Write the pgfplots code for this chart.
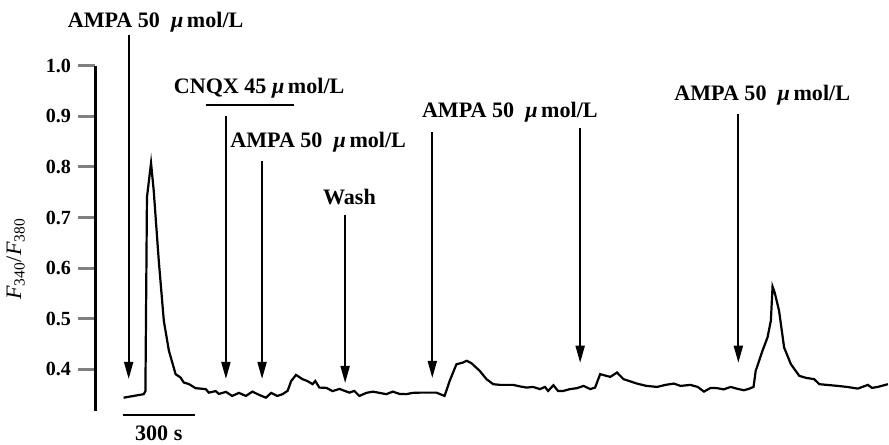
\documentclass[border=0pt]{standalone}
\usepackage{fontspec}
\setmainfont{Liberation Serif}
\usepackage{pgfplots}
\pgfplotsset{compat=1.18}
\usetikzlibrary{arrows.meta}
\begin{document}
\begin{tikzpicture}
\begin{axis}[
  scale only axis,
  width=396pt, height=172pt,
  xmin=-114, xmax=3187, ymin=0.318, ymax=1.0,
  hide x axis,
  axis y line*=left,
  axis line style={line width=1.5pt},
  ytick={0.4,0.5,0.6,0.7,0.8,0.9,1.0},
  tick align=outside,
  major tick length=8.5pt,
  ytick style={line width=1.5pt},
  yticklabel style={font=\fontsize{10}{12}\selectfont\bfseries, /pgf/number format/fixed, /pgf/number format/precision=1, /pgf/number format/fixed zerofill},
  /pgf/number format/assume math mode=true,
  ylabel={{\itshape F}\textsubscript{340}/{\itshape F}\textsubscript{380}},
  ylabel style={font=\fontsize{11}{13}\selectfont, at={(axis description cs:-0.1,0.44)}, anchor=center},
  clip=false,
]
\addplot[black, line width=1.1pt] coordinates {
(4,0.344) (87.5,0.351) (94.6,0.357) (101,0.740) (118,0.8075) (129,0.7535) (150,0.615) (171,0.496) (192,0.437) (220,0.3905) (240,0.384) (254,0.374) (275,0.371) (303,0.3628) (345,0.361) (358,0.354) (386,0.357) (400,0.3515) (429,0.3555) (455,0.3475) (483,0.3535) (512,0.3475) (539,0.356) (567,0.3495) (595,0.344) (617,0.3535) (642,0.3475) (664,0.351) (685,0.3575) (700,0.377) (720,0.389) (747,0.3806) (767,0.377) (789,0.3707) (800,0.377) (817,0.364) (846,0.3634) (872,0.357) (900,0.3614) (942,0.354) (962,0.3574) (983,0.3475) (1012,0.3535) (1039,0.356) (1067,0.3535) (1095,0.351) (1122,0.356) (1150,0.3515) (1178,0.351) (1204,0.3535) (1233,0.354) (1303,0.354) (1337,0.3475) (1358,0.377) (1386,0.410) (1414,0.4135) (1429,0.417) (1449,0.412) (1483,0.397) (1511,0.3806) (1539,0.3707) (1567,0.3693) (1622,0.3693) (1650,0.3663) (1678,0.364) (1704,0.3653) (1733,0.361) (1754,0.3653) (1767,0.3574) (1789,0.3687) (1808,0.3574) (1830,0.3574) (1858,0.361) (1886,0.3628) (1914,0.3673) (1942,0.361) (1962,0.364) (1983,0.3905) (2025,0.3851) (2053,0.3937) (2080,0.3806) (2136,0.3719) (2175,0.3673) (2220,0.3653) (2254,0.3693) (2289,0.3719) (2317,0.3673) (2358,0.3693) (2388,0.3653) (2414,0.356) (2442,0.3634) (2470,0.3628) (2496,0.3604) (2525,0.3653) (2554,0.3614) (2580,0.3588) (2600,0.3614) (2620,0.3653) (2629,0.397) (2657,0.4366) (2678,0.463) (2692,0.496) (2699,0.5634) (2708,0.5515) (2726,0.5158) (2747,0.4432) (2775,0.4103) (2810,0.3871) (2838,0.3832) (2872,0.3806) (2893,0.3707) (2925,0.3693) (2970,0.3673) (3008,0.3653) (3053,0.362) (3095,0.3693) (3112,0.3634) (3136,0.3653) (3178,0.3707)
};
% arrows
\tikzset{arr/.style={line width=0.9pt, -{Triangle[width=4.5pt,length=8.5pt]}}}
\draw[arr] (axis cs:25,1.06) -- (axis cs:25,0.381);
\draw[arr] (axis cs:429,0.900) -- (axis cs:429,0.381);
\draw[arr] (axis cs:579,0.811) -- (axis cs:579,0.381);
\draw[arr] (axis cs:924,0.704) -- (axis cs:924,0.373);
\draw[arr] (axis cs:1286,0.868) -- (axis cs:1286,0.383);
\draw[arr] (axis cs:1900,0.876) -- (axis cs:1900,0.413);
\draw[arr] (axis cs:2557,0.904) -- (axis cs:2557,0.413);
% CNQX bar
\draw[line width=1pt] (axis cs:345,0.922) -- (axis cs:713,0.922);
% labels
\tikzset{lab/.style={font=\fontsize{11}{13}\selectfont\bfseries, anchor=center, inner sep=0pt}}
\node[lab] at (axis cs:137,1.086) {AMPA 50\ \ {\itshape μ}\,mol/L};
\node[lab] at (axis cs:567,0.955) {CNQX 45 {\itshape μ}\,mol/L};
\node[lab] at (axis cs:812,0.849) {AMPA 50\ \ {\itshape μ}\,mol/L};
\node[lab] at (axis cs:942,0.740) {Wash};
\node[lab] at (axis cs:1608,0.908) {AMPA 50\ \ {\itshape μ}\,mol/L};
\node[lab] at (axis cs:2656,0.941) {AMPA 50\ \ {\itshape μ}\,mol/L};
% scale bar
\draw[line width=1pt] (axis cs:0,0.310) -- (axis cs:300,0.310);
\node[lab] at (axis cs:150,0.274) {300 s};
\coordinate (topref) at (axis cs:137,1.086);
\coordinate (botref) at (axis cs:150,0.274);
\end{axis}
\path ([yshift=11pt]topref) -- ([yshift=-5.5pt]botref);
\end{tikzpicture}
\end{document}
